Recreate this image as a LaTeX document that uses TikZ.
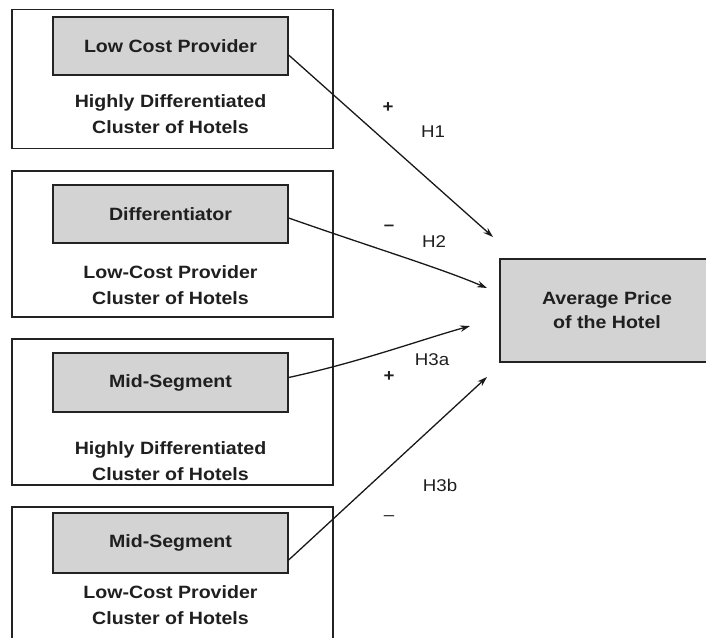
\documentclass[tikz,border=0pt]{standalone}
\usepackage{fontspec}
\setmainfont{Liberation Sans}[FakeStretch=1.1]
\usetikzlibrary{arrows.meta}
\definecolor{boxgray}{RGB}{211,211,211}
\definecolor{edge}{RGB}{35,35,35}
\tikzset{
  outerbox/.style={draw=edge, line width=1.3pt, minimum width=321pt, inner sep=0pt},
  innerbox/.style={draw=edge, line width=1.3pt, fill=boxgray, minimum width=235pt, inner sep=0pt,
     font=\fontsize{17.8}{20}\selectfont\bfseries, text=black!88},
  cluster/.style={align=center, font=\fontsize{17.8}{25.5}\selectfont\bfseries, text=black!88},
  lbl/.style={font=\fontsize{17}{19}\selectfont, text=black!88},
  conn/.style={draw=black!90, line width=1.3pt, -{Stealth[length=10pt,width=6.5pt]}}
}
\begin{document}
\begin{tikzpicture}[x=1pt,y=-1pt]
\useasboundingbox (0,0) rectangle (706,637);
% outer boxes
\node[outerbox, minimum height=139pt] (o1) at (172.5,79) {};
\node[outerbox, minimum height=146pt] (o2) at (172.5,244) {};
\node[outerbox, minimum height=146pt] (o3) at (172.5,412) {};
\node[outerbox, minimum height=150pt] (o4) at (172.5,582) {};
% inner boxes
\node[innerbox, minimum height=58pt] (b1) at (170.5,46) {Low Cost Provider};
\node[innerbox, minimum height=58pt] (b2) at (170.5,214) {Differentiator};
\node[innerbox, minimum height=59pt] (b3) at (170.5,382.5) {Mid-Segment};
\node[innerbox, minimum height=60pt] (b4) at (170.5,543) {Mid-Segment};
% cluster texts
\node[cluster] (c1) at (170.5,114) {Highly Differentiated\\Cluster of Hotels};
\node[cluster] (c2) at (170.5,285) {Low-Cost Provider\\Cluster of Hotels};
\node[cluster] (c3) at (170.5,461) {Highly Differentiated\\Cluster of Hotels};
\node[cluster] (c4) at (170.5,605) {Low-Cost Provider\\Cluster of Hotels};
% target
\node[draw=edge, line width=1.3pt, fill=boxgray, minimum width=212pt, minimum height=103pt, inner sep=0pt] (t) at (606,310.5) {};
\node[cluster, align=center, font=\fontsize{17.8}{24}\selectfont\bfseries] (tt) at (607,310) {Average Price\\of the Hotel};
% arrow ends
\coordinate (e1) at (493,237);
\coordinate (e2) at (487,288);
\coordinate (e3) at (470,326);
\coordinate (e4) at (487,377);
\draw[conn] ([yshift=-9pt]b1.east) -- (e1);
\draw[conn] ([yshift=-4pt]b2.east) .. controls (380,250) and (440,268) .. (e2);
\draw[conn] ([yshift=5pt]b3.east) .. controls (360,362) and (420,340) .. (e3);
\draw[conn] ([yshift=-17pt]b4.east) -- (e4);
% labels
\node[lbl] (p1) at (388,108) {\textbf{+}};
\node[lbl] (h1) at (433,132) {H1};
\node[lbl] (m2) at (389,228) {\textbf{–}};
\node[lbl] (h2) at (434,242) {H2};
\node[lbl] (h3a) at (432,360) {H3a};
\node[lbl] (p3) at (389,377) {\textbf{+}};
\node[lbl] (h3b) at (440,485) {H3b};
\node[lbl] (m4) at (389,518) {–};
\end{tikzpicture}
\end{document}
